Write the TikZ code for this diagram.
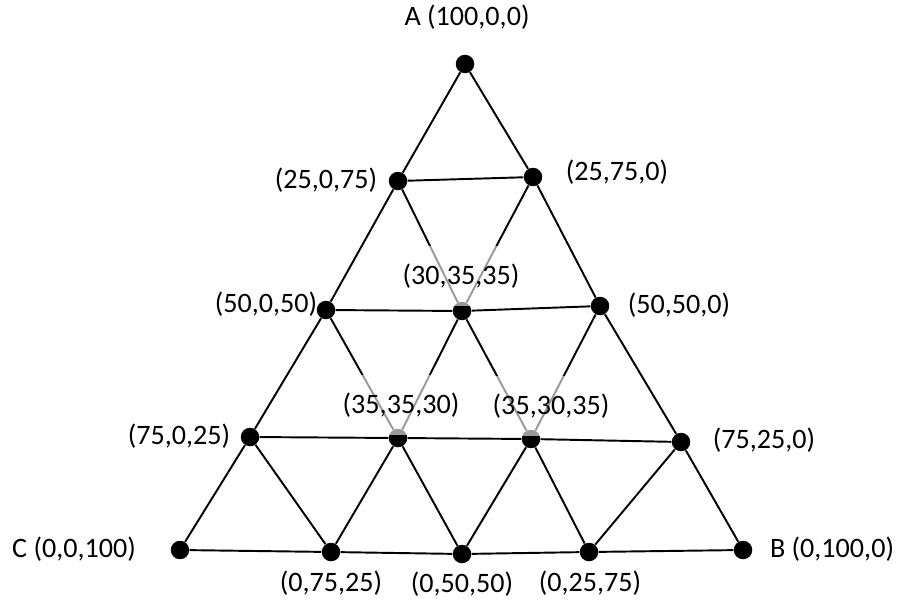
\documentclass[tikz,border=0pt]{standalone}
\usepackage{fontspec}
\setmainfont{Carlito}
\usetikzlibrary{positioning}
\tikzset{
  % vertex dot
  vtx/.style={circle, fill=black, inner sep=0pt, minimum size=0.37cm},
  % grid edge
  edge/.style={line width=1.1pt, black},
  % coordinate label
  tag/.style={font=\fontsize{16}{19}\selectfont, inner sep=1pt},
  % label with a half-transparent white box behind it
  tagbox/.style={tag, fill=white, fill opacity=0.6, text opacity=1,
                 minimum height=1.22cm, inner xsep=3pt},
}
\begin{document}
\begin{tikzpicture}[x=0.02cm,y=-0.02cm]
  \useasboundingbox (0,0) rectangle (901,601);
  % vertices
  \node[vtx] (A)   at (465, 64) {};
  \node[vtx] (ac1) at (398,181) {};
  \node[vtx] (ab1) at (533,177) {};
  \node[vtx] (ac2) at (326,310) {};
  \node[vtx] (m1)  at (462,311) {};
  \node[vtx] (ab2) at (600,306) {};
  \node[vtx] (ac3) at (250,437) {};
  \node[vtx] (m2)  at (398,438) {};
  \node[vtx] (m3)  at (531,439) {};
  \node[vtx] (ab3) at (681,442) {};
  \node[vtx] (C)   at (180,550) {};
  \node[vtx] (bc1) at (331,552) {};
  \node[vtx] (bc2) at (462,554) {};
  \node[vtx] (bc3) at (589,552) {};
  \node[vtx] (B)   at (743,550) {};
  % outer sides
  \draw[edge] (A) -- (ac1) -- (ac2) -- (ac3) -- (C);
  \draw[edge] (A) -- (ab1) -- (ab2) -- (ab3) -- (B);
  \draw[edge] (C) -- (bc1) -- (bc2) -- (bc3) -- (B);
  % horizontal rows
  \draw[edge] (ac1) -- (ab1);
  \draw[edge] (ac2) -- (m1) -- (ab2);
  \draw[edge] (ac3) -- (m2) -- (m3) -- (ab3);
  % inner zig-zags
  \draw[edge] (ac1) -- (m1) -- (ab1);
  \draw[edge] (ac2) -- (m2) -- (m1) -- (m3) -- (ab2);
  \draw[edge] (ac3) -- (bc1) -- (m2) -- (bc2) -- (m3) -- (bc3) -- (ab3);
  % labels
  \node[tag] (tA)   at (467, 17) {A (100,0,0)};
  \node[tag] (tac1) at (326,180) {(25,0,75)};
  \node[tag] (tab1) at (617,172) {(25,75,0)};
  \node[tagbox] (tm1) at (461,276) {(30,35,35)};
  \node[tag] (tac2) at (266,304) {(50,0,50)};
  \node[tag] (tab2) at (679,305) {(50,50,0)};
  \node[tagbox] (tm2) at (401,405) {(35,35,30)};
  \node[tagbox] (tm3) at (551,406) {(35,30,35)};
  \node[tag] (tac3) at (179,436) {(75,0,25)};
  \node[tag] (tab3) at (764,440) {(75,25,0)};
  \node[tag] (tC)   at ( 74,549) {C (0,0,100)};
  \node[tag] (tB)   at (832,549) {B (0,100,0)};
  \node[tag] (tbc1) at (331,583) {(0,75,25)};
  \node[tag] (tbc2) at (462,584) {(0,50,50)};
  \node[tag] (tbc3) at (590,583) {(0,25,75)};
\end{tikzpicture}
\end{document}
